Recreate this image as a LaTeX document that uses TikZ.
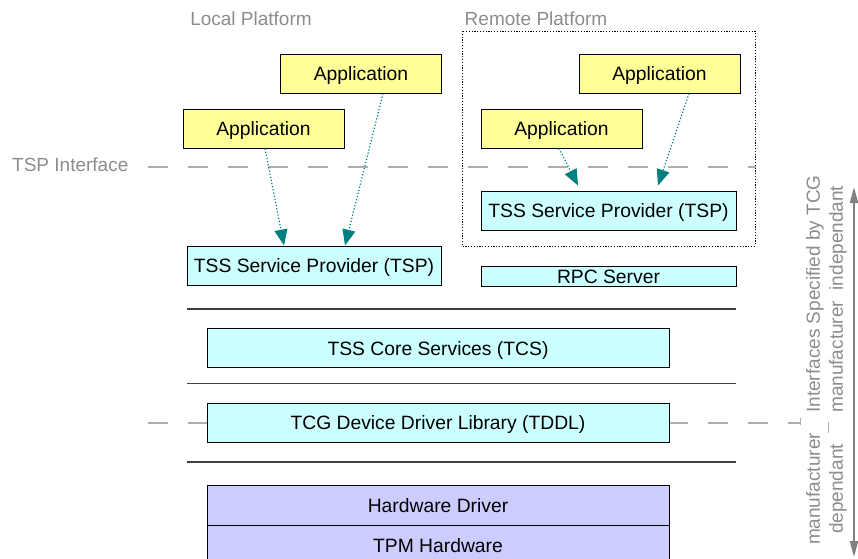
\documentclass[tikz,border=0pt]{standalone}
\usepackage{fontspec}
\setmainfont{Liberation Sans}
\usetikzlibrary{arrows.meta,calc}
\definecolor{appyellow}{RGB}{255,255,153}
\definecolor{tsscyan}{RGB}{204,255,255}
\definecolor{hwpurple}{RGB}{204,204,255}
\definecolor{tealarrow}{RGB}{0,128,128}
\definecolor{labelgray}{RGB}{140,140,140}
\definecolor{dashgray}{RGB}{175,175,175}
\tikzset{
  x=1pt, y=-1pt,
  boxbase/.style={draw=black, line width=1pt, inner sep=0pt, minimum height=39pt,
    text height=14.5pt, text depth=0pt, font=\fontsize{19.3}{22}\selectfont},
  appbox/.style={boxbase, fill=appyellow, minimum width=161pt},
  tspbox/.style={boxbase, fill=tsscyan, minimum width=255pt},
  layerbox/.style={boxbase, fill=tsscyan, minimum width=462pt},
  hwbox/.style={layerbox, fill=hwpurple, minimum height=40pt},
  graylabel/.style={text=labelgray, inner sep=0pt, font=\fontsize{19}{22}\selectfont},
  ifline/.style={draw=dashgray, line width=2pt, dash pattern=on 20pt off 20pt},
  sepline/.style={draw=black!75, line width=1.2pt},
  callarrow/.style={draw=tealarrow, line width=1.2pt, dotted,
    -{Triangle[width=13pt,length=16pt,fill=tealarrow]}},
  sidearrow/.style={draw=gray, line width=2pt,
    {Triangle[width=8pt,length=16pt]}-{Triangle[width=8pt,length=16pt]}},
}
\begin{document}
\begin{tikzpicture}
\useasboundingbox (0,0) rectangle (858,558);
\clip (0,0) rectangle (858,558);

% interface dashed lines
\coordinate (tspL) at (148,167);
\coordinate (tspR) at (756,167);
\coordinate (tddlL) at (148,423);
\coordinate (tddlR) at (800,423);
\draw[ifline] (tspL) -- (tspR);
\draw[ifline] (tddlL) -- (tddlR);

% labels
\node[graylabel] (localp) at (251,19) {Local Platform};
\node[graylabel] (remotep) at (536,19) {Remote Platform};
\node[graylabel, anchor=west] (tspif) at (12,165) {TSP Interface};

% remote platform frame
\draw[black, line width=0.8pt, dash pattern=on 1.2pt off 1.6pt] (462,31) rectangle (755,246);

% applications
\node[appbox] (la2) at (361,73.5) {Application};
\node[appbox] (la1) at (263.5,128.5) {Application};
\node[appbox] (ra2) at (659.5,73.5) {Application};
\node[appbox] (ra1) at (561.5,128.5) {Application};

% TSPs
\node[tspbox] (rtsp) at (608.5,210.5) {TSS Service Provider (TSP)};
\node[tspbox, minimum width=254pt] (ltsp) at (314,265.5) {TSS Service Provider (TSP)};
\node[tspbox, minimum height=20pt] (rpc) at (608.5,276) {RPC Server};

% separator lines
\coordinate (s1L) at (187,309); \coordinate (s1R) at (736,309);
\coordinate (s2L) at (187,383.5); \coordinate (s2R) at (736,383.5);
\coordinate (s3L) at (187,462); \coordinate (s3R) at (736,462);
\draw[sepline] (s1L) -- (s1R);
\draw[sepline] (s2L) -- (s2R);
\draw[sepline] (s3L) -- (s3R);

% layers
\node[layerbox] (tcs) at (438,348) {TSS Core Services (TCS)};
\node[layerbox] (tddl) at (438,422.5) {TCG Device Driver Library (TDDL)};
\node[hwbox] (hwd) at (438,505) {Hardware Driver};
\node[hwbox] (tpm) at (438,545) {TPM Hardware};

% call arrows
\draw[callarrow] (265,0 |- la1.south) -- (284,0 |- ltsp.north);
\draw[callarrow] (383,0 |- la2.south) -- (345,0 |- ltsp.north);
\draw[callarrow] (559,0 |- ra1.south) -- ([yshift=5pt]578,0 |- rtsp.north);
\draw[callarrow] (689,0 |- ra2.south) -- ([yshift=5pt]658,0 |- rtsp.north);

% side annotation
\coordinate (sideTop) at (854,187);
\coordinate (sideBot) at (854,557);
\draw[sidearrow] (sideTop) -- (sideBot);
\node[graylabel, rotate=90, anchor=west, align=left, font=\fontsize{19}{23}\selectfont]
  (indep) at (826.5,413) {Interfaces Specified by TCG\\manufacturer\ \ independant};
\node[graylabel, rotate=90, align=center, font=\fontsize{19}{23}\selectfont]
  (dep) at (826.5,489) {manufacturer\\dependant};
\coordinate (t1a) at (800,418); \coordinate (t1b) at (800,425);
\coordinate (t2a) at (828,422); \coordinate (t2b) at (828,433);
\draw[labelgray!70, line width=0.8pt] (t1a) -- (t1b);
\draw[labelgray!70, line width=0.8pt] (t2a) -- (t2b);
\end{tikzpicture}
\end{document}
